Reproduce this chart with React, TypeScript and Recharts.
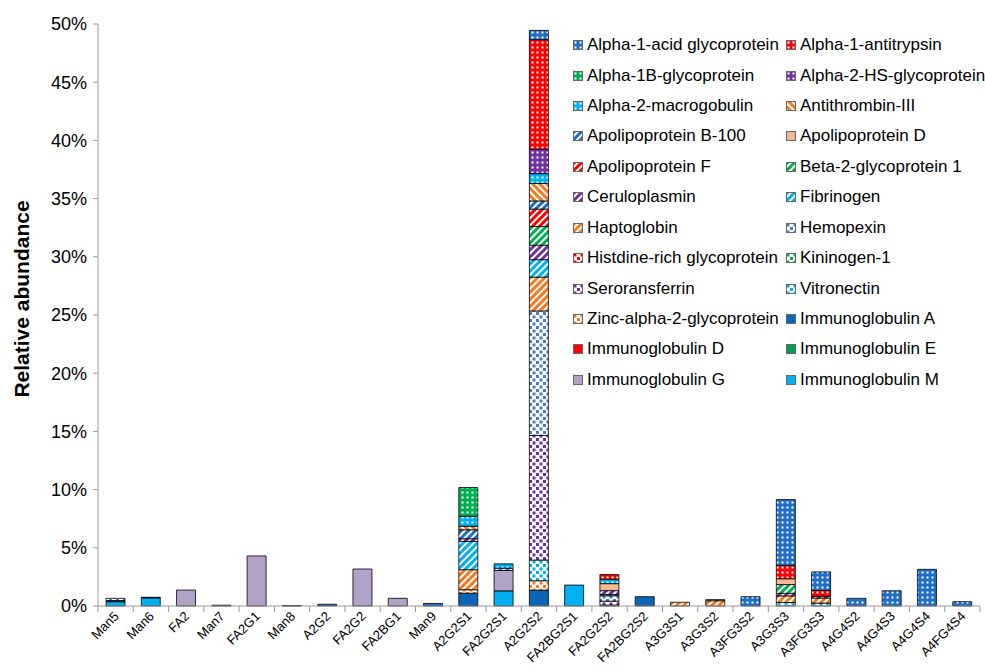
import React from 'react'
import { BarChart, Bar, XAxis, YAxis } from 'recharts'

const CATEGORIES = [
  'Man5', 'Man6', 'FA2', 'Man7', 'FA2G1', 'Man8', 'A2G2', 'FA2G2', 'FA2BG1', 'Man9',
  'A2G2S1', 'FA2G2S1', 'A2G2S2', 'FA2BG2S1', 'FA2G2S2', 'FA2BG2S2', 'A3G3S1', 'A3G3S2',
  'A3FG3S2', 'A3G3S3', 'A3FG3S3', 'A4G4S2', 'A4G4S3', 'A4G4S4', 'A4FG4S4',
]

const Y_TICKS = [0, 5, 10, 15, 20, 25, 30, 35, 40, 45, 50]

// values in % per glycan, same order as CATEGORIES
const alpha1Acid = [0, 0, 0, 0, 0, 0, 0.15, 0, 0, 0.22, 0, 0, 0.8, 0, 0, 0, 0, 0, 0.8, 5.65, 1.6, 0.66, 1.31, 3.15, 0.37]
const alpha1Antitrypsin = [0, 0, 0, 0, 0, 0, 0, 0, 0, 0, 0, 0, 9.4, 0, 0.4, 0, 0, 0, 0, 1.15, 0.5, 0, 0, 0, 0]
const alpha1B = [0, 0, 0, 0, 0, 0, 0, 0, 0, 0, 2.47, 0, 0, 0, 0, 0, 0, 0, 0, 0, 0, 0, 0, 0, 0]
const alpha2HS = [0, 0, 0, 0, 0, 0, 0, 0, 0, 0, 0, 0, 2.1, 0, 0, 0, 0, 0, 0, 0, 0, 0, 0, 0, 0]
const alpha2Macro = [0, 0, 0, 0, 0, 0, 0, 0, 0, 0, 0.86, 0.37, 0.85, 0, 0.38, 0, 0, 0, 0, 0, 0, 0, 0, 0, 0]
const antithrombin = [0, 0, 0, 0, 0, 0, 0, 0, 0, 0, 0.3, 0, 1.5, 0, 0, 0, 0, 0, 0, 0, 0, 0, 0, 0, 0]
const apoB = [0, 0, 0, 0, 0, 0, 0, 0, 0, 0, 0.77, 0.2, 0.7, 0, 0, 0, 0, 0, 0, 0, 0, 0, 0, 0, 0]
const apoD = [0, 0, 0, 0, 0, 0, 0, 0, 0, 0, 0, 0, 0, 0, 0.6, 0, 0, 0, 0, 0.5, 0, 0, 0, 0, 0]
const apoF = [0, 0, 0, 0, 0, 0, 0, 0, 0, 0, 0, 0, 1.5, 0, 0, 0, 0, 0, 0, 0, 0, 0, 0, 0, 0]
const beta2 = [0, 0, 0, 0, 0, 0, 0, 0, 0, 0, 0, 0, 1.6, 0, 0, 0, 0, 0.1, 0, 0.75, 0, 0, 0, 0, 0]
const ceruloplasmin = [0, 0, 0, 0, 0, 0, 0, 0, 0, 0, 0.23, 0, 1.25, 0, 0.34, 0, 0, 0, 0, 0.22, 0.15, 0, 0, 0, 0]
const fibrinogen = [0, 0, 0, 0, 0, 0, 0, 0, 0, 0, 2.43, 0, 1.5, 0, 0.1, 0, 0, 0, 0, 0, 0, 0, 0, 0, 0]
const haptoglobin = [0, 0, 0, 0, 0, 0, 0, 0, 0, 0, 1.72, 0, 2.9, 0, 0, 0, 0.32, 0.45, 0, 0.57, 0.43, 0, 0, 0, 0]
const hemopexin = [0.19, 0, 0, 0, 0, 0, 0, 0, 0, 0, 0, 0, 10.7, 0, 0.46, 0, 0, 0, 0, 0, 0, 0, 0, 0, 0]
const histidine = [0, 0, 0, 0, 0, 0, 0, 0, 0, 0, 0, 0, 0, 0, 0, 0, 0, 0, 0, 0, 0, 0, 0, 0, 0]
const kininogen = [0, 0, 0, 0, 0, 0, 0, 0, 0, 0, 0, 0, 0, 0, 0, 0, 0, 0, 0, 0, 0, 0, 0, 0, 0]
const seroransferrin = [0, 0, 0, 0, 0, 0, 0, 0, 0, 0, 0, 0, 10.7, 0, 0.34, 0, 0, 0, 0, 0, 0, 0, 0, 0, 0]
const vitronectin = [0, 0, 0, 0, 0, 0, 0, 0, 0, 0, 0, 0, 1.78, 0, 0, 0, 0, 0, 0, 0.3, 0.25, 0, 0, 0, 0]
const zinc = [0, 0, 0, 0, 0, 0, 0, 0, 0, 0, 0.3, 0, 0.8, 0, 0, 0, 0, 0, 0, 0, 0, 0, 0, 0, 0]
const igA = [0.1, 0.05, 0, 0, 0, 0.03, 0, 0, 0, 0, 1.1, 0, 1.37, 0, 0.08, 0.8, 0, 0, 0, 0, 0, 0, 0, 0, 0]
const igD = [0, 0, 0, 0, 0, 0, 0, 0, 0, 0, 0, 0, 0, 0, 0, 0, 0, 0, 0, 0, 0, 0, 0, 0, 0]
const igE = [0, 0, 0, 0, 0, 0, 0, 0, 0, 0, 0, 0, 0, 0, 0, 0, 0, 0, 0, 0, 0, 0, 0, 0, 0]
const igG = [0, 0, 1.37, 0.07, 4.3, 0, 0, 3.18, 0.66, 0, 0, 1.75, 0, 0, 0, 0, 0, 0, 0, 0, 0, 0, 0, 0, 0]
const igM = [0.37, 0.7, 0, 0, 0, 0, 0, 0, 0, 0, 0, 1.3, 0, 1.8, 0, 0, 0, 0, 0, 0, 0, 0, 0, 0, 0]

type Kind = 'dots' | 'hatch' | 'back' | 'spots' | 'solid'

// legend order; bars stack in the reverse order (IgM at the bottom)
const SERIES: { name: string; values: number[]; kind: Kind; color: string }[] = [
  { name: 'Alpha-1-acid glycoprotein', values: alpha1Acid, kind: 'dots', color: '#1f6fc4' },
  { name: 'Alpha-1-antitrypsin', values: alpha1Antitrypsin, kind: 'dots', color: '#ff0000' },
  { name: 'Alpha-1B-glycoprotein', values: alpha1B, kind: 'dots', color: '#00b050' },
  { name: 'Alpha-2-HS-glycoprotein', values: alpha2HS, kind: 'dots', color: '#7030a0' },
  { name: 'Alpha-2-macrogobulin', values: alpha2Macro, kind: 'dots', color: '#00b0f0' },
  { name: 'Antithrombin-III', values: antithrombin, kind: 'back', color: '#f47920' },
  { name: 'Apolipoprotein B-100', values: apoB, kind: 'hatch', color: '#1f6fc4' },
  { name: 'Apolipoprotein D', values: apoD, kind: 'solid', color: '#f6b990' },
  { name: 'Apolipoprotein F', values: apoF, kind: 'hatch', color: '#ff0000' },
  { name: 'Beta-2-glycoprotein 1', values: beta2, kind: 'hatch', color: '#00b050' },
  { name: 'Ceruloplasmin', values: ceruloplasmin, kind: 'hatch', color: '#7030a0' },
  { name: 'Fibrinogen', values: fibrinogen, kind: 'hatch', color: '#00b0f0' },
  { name: 'Haptoglobin', values: haptoglobin, kind: 'hatch', color: '#f47920' },
  { name: 'Hemopexin', values: hemopexin, kind: 'spots', color: '#4a7fc8' },
  { name: 'Histdine-rich glycoprotein', values: histidine, kind: 'spots', color: '#ff0000' },
  { name: 'Kininogen-1', values: kininogen, kind: 'spots', color: '#00b050' },
  { name: 'Seroransferrin', values: seroransferrin, kind: 'spots', color: '#7030a0' },
  { name: 'Vitronectin', values: vitronectin, kind: 'spots', color: '#00b0f0' },
  { name: 'Zinc-alpha-2-glycoprotein', values: zinc, kind: 'spots', color: '#f47920' },
  { name: 'Immunoglobulin A', values: igA, kind: 'solid', color: '#0b66b8' },
  { name: 'Immunoglobulin D', values: igD, kind: 'solid', color: '#ff0000' },
  { name: 'Immunoglobulin E', values: igE, kind: 'solid', color: '#00a050' },
  { name: 'Immunoglobulin G', values: igG, kind: 'solid', color: '#b3a2c7' },
  { name: 'Immunoglobulin M', values: igM, kind: 'solid', color: '#00b0f0' },
]

const data = CATEGORIES.map((cat, i) => {
  const row: Record<string, string | number> = { name: cat }
  SERIES.forEach((s, j) => {
    row['s' + j] = s.values[i]
  })
  return row
})

const FONT = '"Liberation Sans", Arial, Helvetica, sans-serif'
const W = 985
const H = 670
const LEFT = 98
const RIGHT = 5
const BAND = (W - LEFT - RIGHT) / CATEGORIES.length

const fillOf = (i: number) => (SERIES[i].kind === 'solid' ? SERIES[i].color : `url(#pat${i})`)

function Patterns() {
  return (
    <svg width={0} height={0} style={{ position: 'absolute' }}>
      <defs>
        {SERIES.map((s, i) => {
          const id = `pat${i}`
          if (s.kind === 'dots') {
            return (
              <pattern key={id} id={id} width={5} height={5} patternUnits="userSpaceOnUse">
                <rect width={5} height={5} fill={s.color} />
                <rect x={1.5} y={1.5} width={2} height={2} fill="#fff" />
              </pattern>
            )
          }
          if (s.kind === 'hatch' || s.kind === 'back') {
            return (
              <pattern
                key={id}
                id={id}
                width={5}
                height={5}
                patternUnits="userSpaceOnUse"
                patternTransform={s.kind === 'hatch' ? 'rotate(45)' : 'rotate(-45)'}
              >
                <rect width={5} height={5} fill="#fff" />
                <rect width={3} height={5} fill={s.color} />
              </pattern>
            )
          }
          if (s.kind === 'spots') {
            return (
              <pattern key={id} id={id} width={7} height={7} patternUnits="userSpaceOnUse">
                <rect width={7} height={7} fill="#fff" />
                <rect x={0.5} y={0.5} width={3} height={3} fill={s.color} />
                <rect x={4} y={4} width={3} height={3} fill={s.color} />
              </pattern>
            )
          }
          return null
        })}
      </defs>
    </svg>
  )
}

function XTick(props: any) {
  const { x, y, payload, index } = props
  const last = index === CATEGORIES.length - 1
  return (
    <g>
      <line x1={x - BAND / 2} x2={x - BAND / 2} y1={y - 6} y2={y} stroke="#999" />
      {last && <line x1={x + BAND / 2} x2={x + BAND / 2} y1={y - 6} y2={y} stroke="#999" />}
      <text
        x={x + 4}
        y={y + 5}
        transform={`rotate(-45 ${x + 4} ${y + 5})`}
        textAnchor="end"
        fontSize={13}
        fontFamily={FONT}
        fill="#000"
      >
        {payload.value}
      </text>
    </g>
  )
}

function LegendBox() {
  return (
    <div
      style={{
        position: 'absolute',
        left: 573,
        top: 30,
        display: 'grid',
        gridTemplateColumns: '213px 190px',
        gridAutoRows: '30.43px',
        fontFamily: FONT,
        fontSize: 17,
        color: '#000',
        whiteSpace: 'nowrap',
      }}
    >
      {SERIES.map((s, i) => (
        <div key={s.name} style={{ display: 'flex', alignItems: 'center' }}>
          <svg width={10} height={10} style={{ marginRight: 4, flex: 'none' }}>
            <rect x={0.5} y={0.5} width={9} height={9} fill={fillOf(i)} stroke="#666" strokeWidth={1} />
          </svg>
          <span>{s.name}</span>
        </div>
      ))}
    </div>
  )
}

export default function App() {
  const stackOrder = SERIES.map((_, i) => i).reverse()
  return (
    <div style={{ position: 'absolute', left: 0, top: 0, width: W, height: H, background: '#fff' }}>
      <Patterns />
      <BarChart
        width={W}
        height={H}
        data={data}
        margin={{ top: 24, right: RIGHT, bottom: 0, left: 0 }}
        barSize={19}
      >
        <XAxis
          dataKey="name"
          height={64}
          interval={0}
          tickLine={false}
          tickSize={6}
          tickMargin={0}
          axisLine={{ stroke: '#999' }}
          tick={<XTick />}
        />
        <YAxis
          width={LEFT}
          domain={[0, 50]}
          ticks={Y_TICKS}
          tickFormatter={(v: number) => `${v}%`}
          tickSize={5}
          tickMargin={6}
          axisLine={{ stroke: '#999' }}
          tickLine={{ stroke: '#999' }}
          tick={{ fontSize: 18, fontFamily: FONT, fill: '#000' }}
          label={{
            content: ({ viewBox }: any) => {
              const cx = viewBox.x + 21
              const cy = viewBox.y + viewBox.height / 2 - 16
              return (
                <text
                  x={cx}
                  y={cy}
                  transform={`rotate(-90 ${cx} ${cy})`}
                  textAnchor="middle"
                  dominantBaseline="central"
                  fontSize={21}
                  fontWeight="bold"
                  fontFamily={FONT}
                  fill="#000"
                >
                  Relative abundance
                </text>
              )
            },
          }}
        />
        {stackOrder.map((i) => (
          <Bar
            key={i}
            dataKey={'s' + i}
            name={SERIES[i].name}
            stackId="a"
            fill={fillOf(i)}
            stroke="#000"
            strokeWidth={0.8}
            isAnimationActive={false}
          />
        ))}
      </BarChart>
      <LegendBox />
    </div>
  )
}
